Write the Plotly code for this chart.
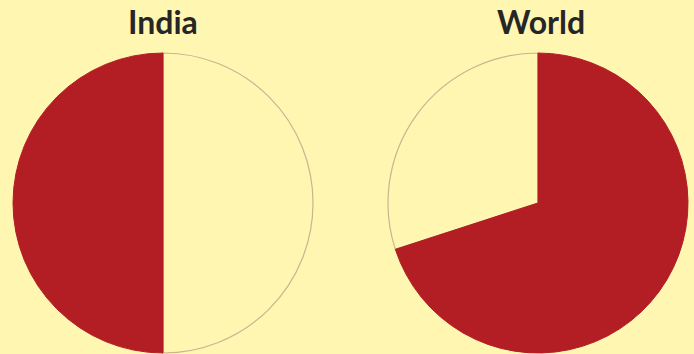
import plotly.graph_objects as go

# Share of the total, per region
regions = ["India", "World"]
labels = ["Other", "Share"]
india_values = [50, 50]   # other, share
world_values = [30, 70]   # other, share

BG = "#FFF6B2"
RED = "#B31D24"
EDGE = "#C9B48E"

W, H = 694, 354

fig = go.Figure()

fig.add_trace(go.Pie(
    labels=labels, values=india_values, sort=False,
    direction="clockwise", rotation=0,
    marker=dict(colors=[BG, RED], line=dict(color=[EDGE, RED], width=[1.2, 1])),
    textinfo="none", hoverinfo="label+percent",
    domain=dict(x=[13 / W, 313 / W], y=[1 / H, 301 / H]),
    showlegend=False,
))

# "Other" slice starts so that the share slice begins at 12 o'clock
world_rotation = -360 * world_values[0] / sum(world_values)
fig.add_trace(go.Pie(
    labels=labels, values=world_values, sort=False,
    direction="clockwise", rotation=world_rotation,
    marker=dict(colors=[BG, RED], line=dict(color=[EDGE, RED], width=[1.2, 1])),
    textinfo="none", hoverinfo="label+percent",
    domain=dict(x=[388 / W, 688 / W], y=[1 / H, 301 / H]),
    showlegend=False,
))

for name, cx in zip(regions, [163, 541]):
    fig.add_annotation(
        text=f"<b>{name}</b>", x=cx / W, y=1 - 22 / H,
        xref="paper", yref="paper", showarrow=False,
        xanchor="center", yanchor="middle",
        font=dict(family="Lato, 'Open Sans', sans-serif", size=32, color="#262626"),
    )

fig.update_layout(
    width=W, height=H,
    margin=dict(l=0, r=0, t=0, b=0),
    paper_bgcolor=BG, plot_bgcolor=BG,
)

fig.write_html("out.html")
